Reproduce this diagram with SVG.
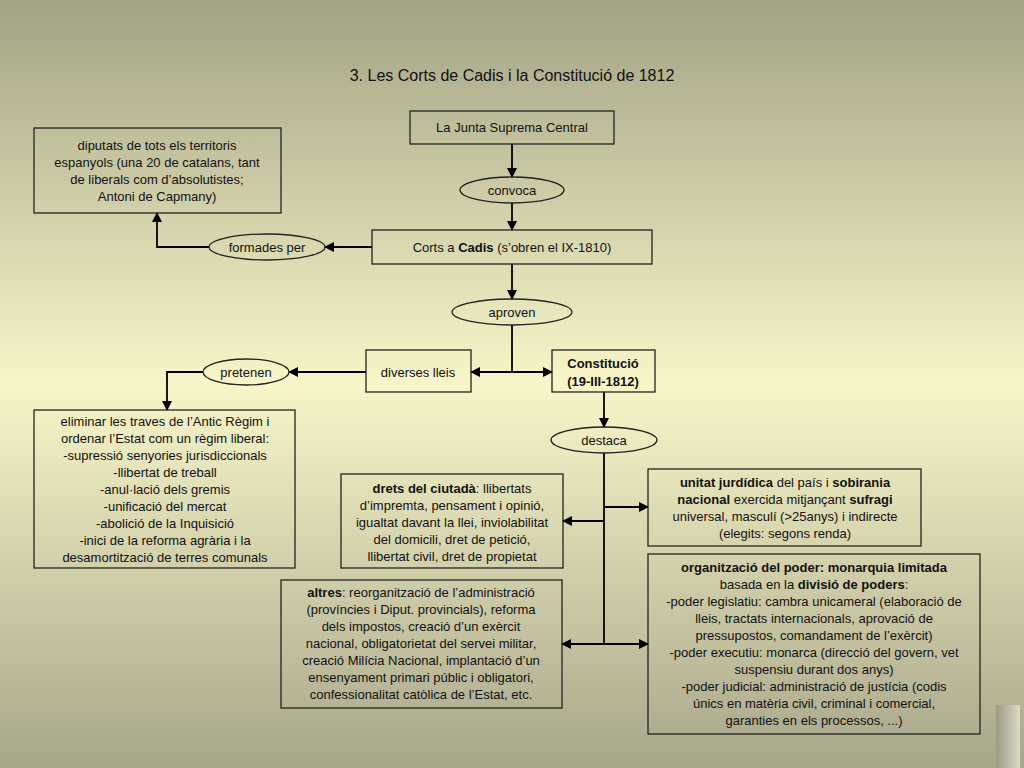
<svg xmlns="http://www.w3.org/2000/svg" width="1024" height="768" viewBox="0 0 1024 768">
<defs>
<linearGradient id="bg" x1="0" y1="0" x2="0" y2="1">
<stop offset="0" stop-color="#a3a285"/>
<stop offset="0.5" stop-color="#f8f6c8"/>
<stop offset="1" stop-color="#a8a68a"/>
</linearGradient>
<linearGradient id="sq" x1="0" y1="0" x2="1" y2="0">
<stop offset="0" stop-color="#9c9a82"/>
<stop offset="1" stop-color="#dcdac8"/>
</linearGradient>
<marker id="a" markerWidth="10" markerHeight="10" refX="9" refY="5" orient="auto" markerUnits="userSpaceOnUse">
<path d="M0,0 L10,5 L0,10 z" fill="#000"/>
</marker>
</defs>
<style>
text{font-family:"Liberation Sans",Arial,sans-serif;font-size:13px;fill:#111;text-anchor:middle}
.b{font-weight:bold}
rect.n,ellipse{fill:none;stroke:#222;stroke-width:1.3}
#c path{fill:none;stroke:#000;stroke-width:1.8;marker-end:url(#a)}
#c path.p{marker-end:none}
</style>
<rect width="1024" height="768" fill="url(#bg)"/>
<rect x="996" y="705" width="24" height="63" fill="url(#sq)"/>
<text x="512" y="81" style="font-size:16px">3. Les Corts de Cadis i la Constitució de 1812</text>
<g id="c">
<path d="M512,144 V177"/>
<path d="M512,203 V230"/>
<path d="M372,247 H325"/>
<path d="M209,247 H157 V213"/>
<path d="M512,264 V299"/>
<path class="p" d="M512,325 V372"/>
<path d="M512,372 H471"/>
<path d="M512,372 H552"/>
<path d="M366,372 H289"/>
<path d="M203,372 H167 V410"/>
<path d="M604,392 V427"/>
<path class="p" d="M604,453 V644"/>
<path d="M604,507 H648"/>
<path d="M604,521 H563"/>
<path d="M604,644 H562"/>
<path d="M604,644 H648"/>
</g>
<g id="junta"><rect class="n" x="410" y="111" width="204" height="33"/><text x="512" y="132">La Junta Suprema Central</text></g>
<g id="convoca"><ellipse cx="512" cy="190" rx="52" ry="13"/><text x="512" y="195">convoca</text></g>
<g id="corts"><rect class="n" x="372" y="230" width="280" height="34"/><text x="512" y="252">Corts a <tspan class="b">Cadis</tspan> (s’obren el IX-1810)</text></g>
<g id="formades"><ellipse cx="267" cy="247" rx="58" ry="13"/><text x="267" y="252">formades per</text></g>
<g id="diputats"><rect class="n" x="34" y="128" width="247" height="85"/>
<text x="157" y="150">diputats de tots els territoris</text>
<text x="157" y="167">espanyols (una 20 de catalans, tant</text>
<text x="157" y="184">de liberals com d’absolutistes;</text>
<text x="157" y="201">Antoni de Capmany)</text></g>
<g id="aproven"><ellipse cx="512" cy="312" rx="60" ry="13"/><text x="512" y="317">aproven</text></g>
<g id="diverses"><rect class="n" x="366" y="350" width="105" height="42"/><text x="418" y="377">diverses lleis</text></g>
<g id="constitucio"><rect class="n" x="552" y="350" width="103" height="42"/><text class="b" x="603" y="368">Constitució</text><text class="b" x="603" y="386">(19-III-1812)</text></g>
<g id="pretenen"><ellipse cx="246" cy="372" rx="43" ry="13"/><text x="246" y="377">pretenen</text></g>
<g id="eliminar"><rect class="n" x="34" y="410" width="261" height="158"/>
<text x="165" y="426">eliminar les traves de l’Antic Règim i</text>
<text x="165" y="443">ordenar l’Estat com un règim liberal:</text>
<text x="165" y="460">-supressió senyories jurisdiccionals</text>
<text x="165" y="477">-llibertat de treball</text>
<text x="165" y="494">-anul·lació dels gremis</text>
<text x="165" y="511">-unificació del mercat</text>
<text x="165" y="528">-abolició de la Inquisició</text>
<text x="165" y="545">-inici de la reforma agrària i la</text>
<text x="165" y="562">desamortització de terres comunals</text></g>
<g id="destaca"><ellipse cx="604" cy="440" rx="53" ry="13"/><text x="604" y="445">destaca</text></g>
<g id="drets"><rect class="n" x="341" y="474" width="222" height="94"/>
<text x="452" y="493"><tspan class="b">drets del ciutadà</tspan>: llibertats</text>
<text x="452" y="510">d’impremta, pensament i opinió,</text>
<text x="452" y="527">igualtat davant la llei, inviolabilitat</text>
<text x="452" y="544">del domicili, dret de petició,</text>
<text x="452" y="561">llibertat civil, dret de propietat</text></g>
<g id="unitat"><rect class="n" x="648" y="469" width="273" height="77"/>
<text x="785" y="487"><tspan class="b">unitat jurdídica</tspan> del país i <tspan class="b">sobirania</tspan></text>
<text x="785" y="504"><tspan class="b">nacional</tspan> exercida mitjançant <tspan class="b">sufragi</tspan></text>
<text x="785" y="521">universal, masculí (&gt;25anys) i indirecte</text>
<text x="785" y="538">(elegits: segons renda)</text></g>
<g id="altres"><rect class="n" x="281" y="580" width="281" height="128"/>
<text x="421" y="597"><tspan class="b">altres</tspan>: reorganització de l’administració</text>
<text x="421" y="614">(províncies i Diput. provincials), reforma</text>
<text x="421" y="631">dels impostos, creació d’un exèrcit</text>
<text x="421" y="648">nacional, obligatorietat del servei militar,</text>
<text x="421" y="665">creació Milícia Nacional, implantació d’un</text>
<text x="421" y="682">ensenyament primari públic i obligatori,</text>
<text x="421" y="699">confessionalitat catòlica de l’Estat, etc.</text></g>
<g id="org"><rect class="n" x="648" y="554" width="332" height="180"/>
<text class="b" x="814" y="572">organització del poder: monarquia limitada</text>
<text x="814" y="589">basada en la <tspan class="b">divisió de poders</tspan>:</text>
<text x="814" y="606">-poder legislatiu: cambra unicameral (elaboració de</text>
<text x="814" y="623">lleis, tractats internacionals, aprovació de</text>
<text x="814" y="640">pressupostos, comandament de l’exèrcit)</text>
<text x="814" y="657">-poder executiu: monarca (direcció del govern, vet</text>
<text x="814" y="674">suspensiu durant dos anys)</text>
<text x="814" y="691">-poder judicial: administració de justícia (codis</text>
<text x="814" y="708">únics en matèria civil, criminal i comercial,</text>
<text x="814" y="725">garanties en els processos, ...)</text></g>
</svg>
